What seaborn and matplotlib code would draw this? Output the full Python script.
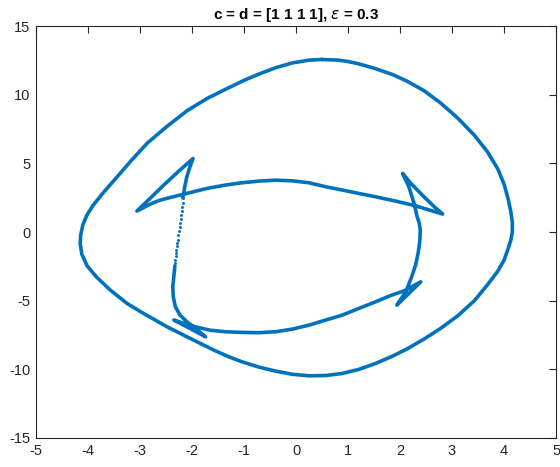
import matplotlib
matplotlib.use("Agg")
import matplotlib.pyplot as plt
import seaborn as sns

# Outer closed orbit (clockwise from the top)
outer_x = [0.5, 0.82, 1.0, 1.21, 1.53, 1.87, 2.14, 2.46, 2.78, 3.11, 3.43, 3.68, 3.88,
           4.0, 4.08, 4.13, 4.16, 4.16, 4.13, 4.08, 4.0, 3.88, 3.68, 3.43, 3.11, 2.78,
           2.46, 2.14, 1.85, 1.53, 1.21, 0.89, 0.57, 0.25, -0.07, -0.39, -0.72, -1.04,
           -1.3, -1.58, -1.97, -2.48, -2.93, -3.25, -3.57, -3.83, -4.02, -4.12, -4.15,
           -4.14, -4.1, -4.02, -3.9, -3.7, -3.44, -3.17, -2.86, -2.48, -2.09, -1.7, -1.3,
           -1.0, -0.72, -0.39, -0.07, 0.25, 0.5]
outer_y = [12.57, 12.52, 12.42, 12.25, 11.9, 11.45, 10.98, 10.3, 9.4, 8.3, 7.05, 5.85,
           4.6, 3.5, 2.4, 1.5, 0.7, 0.0, -0.6, -1.2, -2.05, -2.85, -3.85, -5.0, -6.1,
           -7.02, -7.8, -8.5, -9.05, -9.57, -10.0, -10.3, -10.45, -10.47, -10.36, -10.13,
           -9.83, -9.45, -9.07, -8.6, -7.87, -6.9, -5.93, -5.2, -4.23, -3.3, -2.45, -1.6,
           -0.85, -0.2, 0.5, 1.25, 1.95, 2.9, 4.02, 5.2, 6.48, 7.7, 8.85, 9.75, 10.5,
           11.05, 11.5, 11.97, 12.32, 12.52, 12.57]

# Inner orbit with its four swallowtails (solid part)
inner_x = [-2.33, -2.35, -2.37, -2.36, -2.32, -2.23, -2.1, -1.97, -1.85, -1.74,
           -2.05, -2.35,
           -2.0, -1.65, -1.36, -1.04, -0.72, -0.39, -0.07, 0.25, 0.57, 0.89, 1.21, 1.53,
           1.82, 2.08, 2.4,
           2.17, 1.94,
           2.11, 2.22, 2.3, 2.35, 2.38, 2.39, 2.37, 2.33, 2.27, 2.17, 2.05,
           2.21, 2.46, 2.66, 2.82,
           2.27, 1.92, 1.53, 1.21, 0.89, 0.57, 0.25, -0.07, -0.39, -0.72, -1.04, -1.36,
           -1.71, -2.16, -2.61, -2.8, -3.06,
           -2.82, -2.55, -2.25, -1.98,
           -2.04, -2.1, -2.14, -2.16, -2.18]
inner_y = [-2.45, -3.26, -4.0, -4.72, -5.44, -6.05, -6.53, -6.9, -7.28, -7.63,
           -7.0, -6.41,
           -6.85, -7.15, -7.26, -7.31, -7.33, -7.26, -7.07, -6.78, -6.41, -6.05, -5.56,
           -5.08, -4.62, -4.28, -3.62,
           -4.47, -5.32,
           -4.35, -3.3, -2.4, -1.5, -0.7, 0.14, 0.65, 1.11, 2.09, 3.3, 4.27,
           3.54, 2.57, 1.84, 1.31,
           1.94, 2.25, 2.57, 2.81, 3.06, 3.3, 3.59, 3.73, 3.78, 3.71, 3.59, 3.42,
           3.18, 2.76, 2.33, 2.04, 1.53,
           2.4, 3.4, 4.45, 5.36,
           4.75, 4.02, 3.3, 2.81, 2.5]

# Sparse samples where the inner orbit moves quickly
dot_x = [-2.17, -2.18, -2.19, -2.2, -2.21, -2.22, -2.23, -2.24, -2.25, -2.26,
         -2.27, -2.28, -2.29, -2.3, -2.3, -2.31, -2.32, -2.32]
dot_y = [2.45, 2.15, 1.85, 1.55, 1.25, 0.95, 0.65, 0.35, 0.05, -0.25,
         -0.55, -0.8, -1.05, -1.3, -1.55, -1.78, -2.0, -2.22]

x_ticks = [-5, -4, -3, -2, -1, 0, 1, 2, 3, 4, 5]
y_ticks = [-15, -10, -5, 0, 5, 10, 15]

sns.set_style("white")
plt.rcParams['font.family'] = ['Liberation Sans', 'DejaVu Sans']
plt.rcParams['axes.unicode_minus'] = False
plt.rcParams['mathtext.fontset'] = 'dejavusans'

blue = "#0072BD"
fig = plt.figure(figsize=(5.6, 4.67), dpi=100)
ax = fig.add_axes([0.0643, 0.0621, 0.9286, 0.882])

sns.lineplot(x=outer_x, y=outer_y, sort=False, estimator=None, color=blue, lw=2.6, ax=ax)
sns.lineplot(x=inner_x, y=inner_y, sort=False, estimator=None, color=blue, lw=2.6, ax=ax)
sns.scatterplot(x=dot_x, y=dot_y, color=blue, s=4.5, linewidth=0, ax=ax)

ax.set_xlim(-5, 5)
ax.set_ylim(-15, 15)
ax.set_xticks(x_ticks)
ax.set_yticks(y_ticks)
ax.set_xticklabels([str(t) for t in x_ticks])
ax.set_yticklabels([str(t) for t in y_ticks])
ax.tick_params(direction='in', length=5, width=0.8, colors='#262626',
               labelsize=10.5, top=True, right=True, pad=4)
for s in ax.spines.values():
    s.set_color('#262626')
    s.set_linewidth(0.8)
ax.set_title(r'c = d = [1 1 1 1], $\epsilon$ = 0.3', fontsize=11, fontweight='bold',
             color='black', pad=5)

fig.savefig("out.png", dpi=100)
